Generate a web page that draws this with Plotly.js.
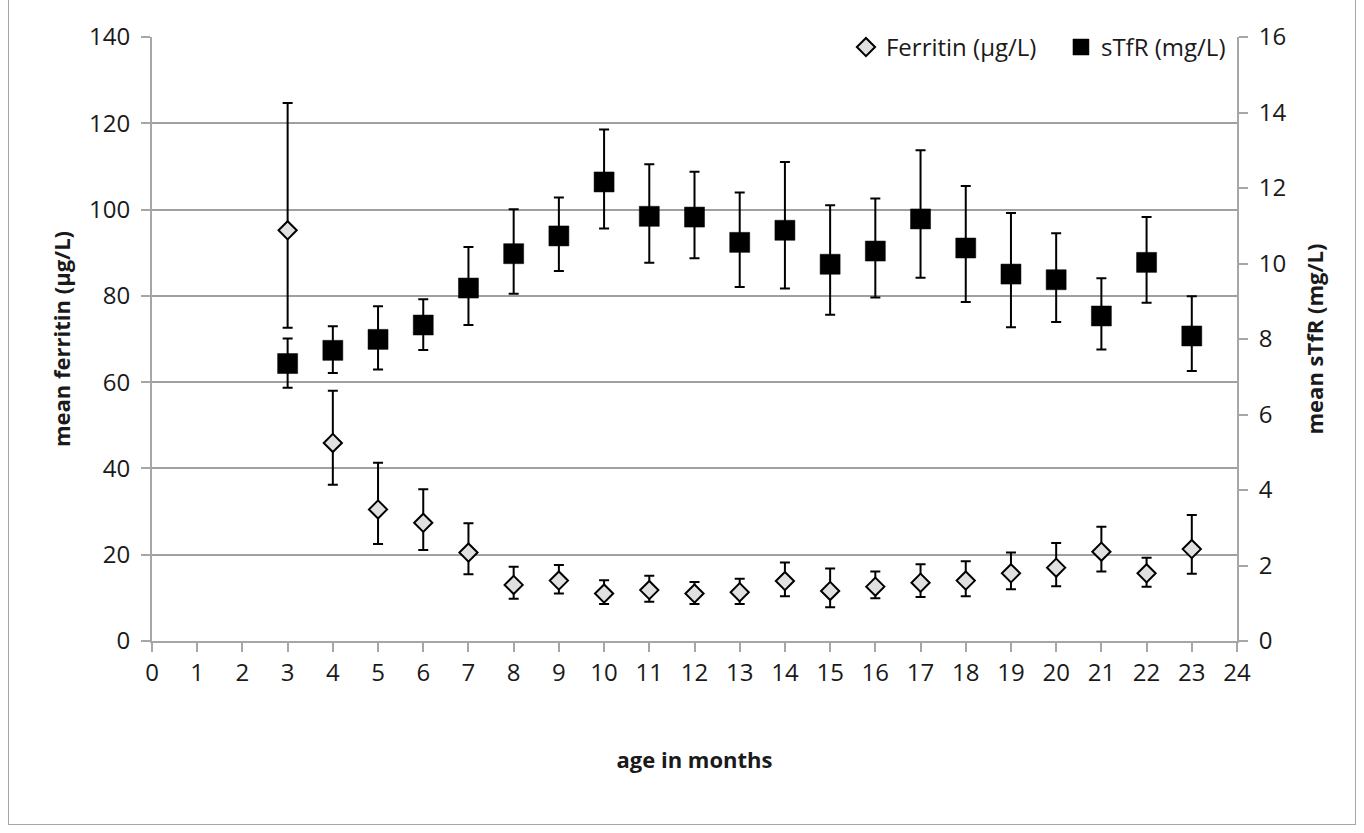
<!DOCTYPE html>
<html>
<head>
<meta charset="utf-8">
<script src="https://cdn.plot.ly/plotly-3.0.1.min.js"></script>
<style>
  html, body { margin: 0; padding: 0; background: #fff; }
  #frame { position: absolute; left: 8px; top: 0px; width: 1346px; height: 824px; border: 1.5px solid #a6a6a6; border-top: none; }
  #chart { position: absolute; left: 0; top: 0; width: 1364px; height: 833px; }
</style>
</head>
<body>
<div id="frame"></div>
<div id="chart"></div>
<script>
// age in months
const ages = [3, 4, 5, 6, 7, 8, 9, 10, 11, 12, 13, 14, 15, 16, 17, 18, 19, 20, 21, 22, 23];

// Ferritin (µg/L): mean, upper and lower error bar ends
const ferritinMean  = [95.2, 45.9, 30.5, 27.4, 20.5, 13.0, 14.0, 11.0, 11.8, 11.0, 11.3, 13.9, 11.6, 12.6, 13.5, 14.0, 15.7, 17.0, 20.7, 15.7, 21.3];
const ferritinUpper = [124.7, 58.0, 41.3, 35.2, 27.3, 17.2, 17.6, 14.1, 15.1, 13.7, 14.4, 18.2, 16.8, 16.1, 17.8, 18.5, 20.5, 22.7, 26.5, 19.3, 29.2];
const ferritinLower = [72.6, 36.2, 22.5, 21.1, 15.5, 9.8, 11.0, 8.6, 9.1, 8.6, 8.6, 10.4, 7.8, 9.9, 10.2, 10.4, 12.0, 12.7, 16.1, 12.6, 15.6];

// sTfR (mg/L): mean, upper and lower error bar ends
const stfrMean  = [7.35, 7.70, 7.99, 8.37, 9.35, 10.26, 10.73, 12.16, 11.25, 11.23, 10.56, 10.88, 9.98, 10.33, 11.18, 10.41, 9.72, 9.57, 8.61, 10.03, 8.08];
const stfrUpper = [8.01, 8.34, 8.87, 9.05, 10.44, 11.44, 11.75, 13.55, 12.63, 12.43, 11.88, 12.69, 11.54, 11.72, 13.00, 12.05, 11.34, 10.80, 9.61, 11.23, 9.13];
const stfrLower = [6.71, 7.10, 7.19, 7.71, 8.37, 9.20, 9.80, 10.93, 10.02, 10.14, 9.38, 9.34, 8.64, 9.10, 9.62, 8.98, 8.31, 8.45, 7.72, 8.96, 7.15];

// tick values
const xTicks = [0,1,2,3,4,5,6,7,8,9,10,11,12,13,14,15,16,17,18,19,20,21,22,23,24];
const yTicks = [0, 20, 40, 60, 80, 100, 120, 140];
const y2Ticks = [0, 2, 4, 6, 8, 10, 12, 14, 16];

const diff = (a, b) => a.map((v, i) => v - b[i]);

const font = '"Open Sans", "Noto Sans", "Liberation Sans", sans-serif';
const txt = '#1a1a1a';

const traces = [
  {
    name: 'Ferritin (µg/L)',
    x: ages, y: ferritinMean, type: 'scatter', mode: 'markers',
    marker: { symbol: 'diamond', size: 14, color: '#e0e0e0', line: { color: '#000', width: 2 } },
    error_y: { type: 'data', symmetric: false,
      array: diff(ferritinUpper, ferritinMean), arrayminus: diff(ferritinMean, ferritinLower),
      color: '#000', thickness: 2, width: 5 },
    yaxis: 'y'
  },
  {
    name: 'sTfR (mg/L)',
    x: ages, y: stfrMean, type: 'scatter', mode: 'markers',
    marker: { symbol: 'square', size: 20, color: '#000', line: { color: '#000', width: 0.5 } },
    error_y: { type: 'data', symmetric: false,
      array: diff(stfrUpper, stfrMean), arrayminus: diff(stfrMean, stfrLower),
      color: '#000', thickness: 2, width: 5 },
    yaxis: 'y2'
  }
];

const layout = {
  width: 1364, height: 833,
  margin: { l: 152, r: 127, t: 37, b: 192 },
  paper_bgcolor: 'rgba(0,0,0,0)', plot_bgcolor: 'rgba(0,0,0,0)',
  font: { family: font, size: 24, color: txt },
  showlegend: true,
  legend: { orientation: 'h', x: 0.6396, xanchor: 'left', y: 1.02, yanchor: 'top',
    font: { family: font, size: 24, color: txt }, bgcolor: 'rgba(0,0,0,0)',
    itemwidth: 30, tracegroupgap: 0, entrywidth: 170, entrywidthmode: 'pixels' },
  xaxis: {
    range: [0, 24], tickmode: 'array', tickvals: xTicks, ticktext: xTicks.map(String),
    showgrid: false, zeroline: false, showline: true, linecolor: '#a6a6a6', linewidth: 2,
    ticks: 'outside', ticklen: 9, tickwidth: 2, tickcolor: '#a6a6a6',
    tickfont: { family: font, size: 24, color: txt },
    title: { text: '<b>age in months</b>', font: { family: font, size: 22, color: txt }, standoff: 66 },
    fixedrange: true
  },
  yaxis: {
    range: [0, 140], tickmode: 'array', tickvals: yTicks,
    showgrid: true, gridcolor: '#a0a0a0', gridwidth: 2, zeroline: false,
    showline: true, linecolor: '#a6a6a6', linewidth: 2,
    ticks: 'outside', ticklen: 9, tickwidth: 2, tickcolor: '#a6a6a6', ticklabelstandoff: 6,
    tickfont: { family: font, size: 24, color: txt },
    title: { text: '<b>mean ferritin (µg/L)</b>', font: { family: font, size: 22, color: txt }, standoff: 12 },
    fixedrange: true
  },
  yaxis2: {
    range: [0, 16], tickmode: 'array', tickvals: y2Ticks, overlaying: 'y', side: 'right',
    showgrid: false, zeroline: false, showline: true, linecolor: '#a6a6a6', linewidth: 2,
    ticks: 'outside', ticklen: 9, tickwidth: 2, tickcolor: '#a6a6a6', ticklabelstandoff: 6,
    tickfont: { family: font, size: 24, color: txt },
    title: { text: '<b>mean sTfR (mg/L)</b>', font: { family: font, size: 22, color: txt }, standoff: 22 },
    fixedrange: true
  }
};

Plotly.newPlot('chart', traces, layout, { displayModeBar: false, staticPlot: true });
</script>
</body>
</html>
